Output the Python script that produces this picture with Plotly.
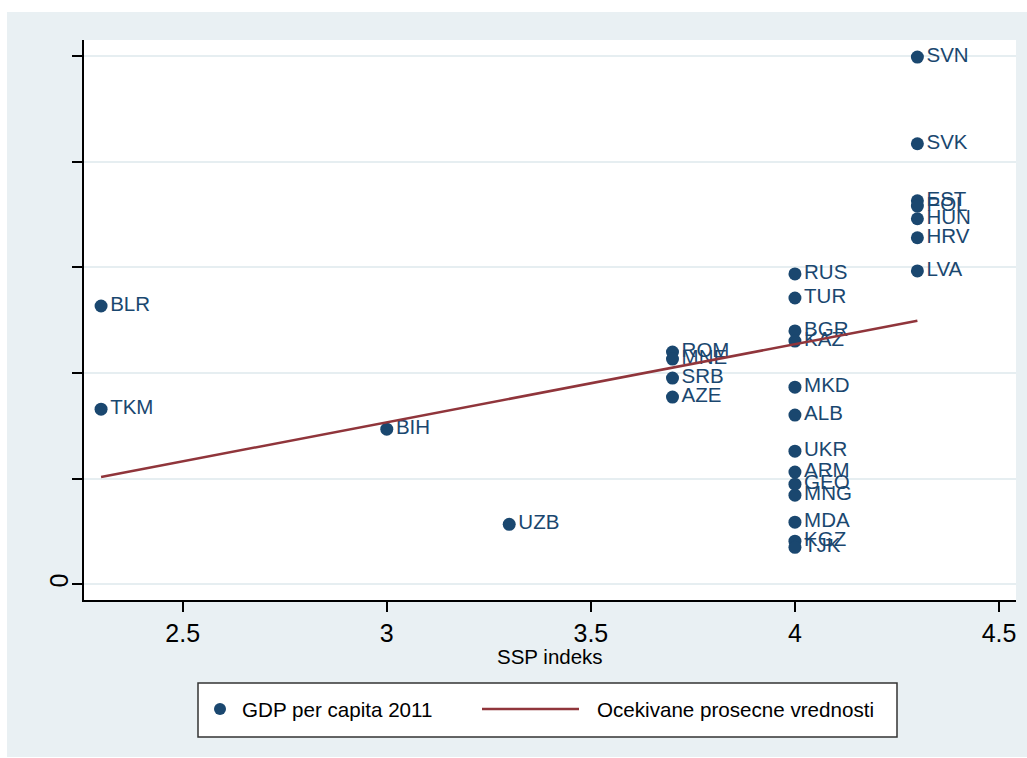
import plotly.graph_objects as go

# ---- data ----
countries = ["SVN", "SVK", "EST", "POL", "HUN", "HRV", "LVA",
             "RUS", "TUR", "BGR", "KAZ", "MKD", "ALB", "UKR", "ARM", "GEO", "MNG", "MDA", "KGZ", "TJK",
             "ROM", "MNE", "SRB", "AZE",
             "UZB", "BIH", "BLR", "TKM"]
ssp_index = [4.3, 4.3, 4.3, 4.3, 4.3, 4.3, 4.3,
             4.0, 4.0, 4.0, 4.0, 4.0, 4.0, 4.0, 4.0, 4.0, 4.0, 4.0, 4.0, 4.0,
             3.7, 3.7, 3.7, 3.7,
             3.3, 3.0, 2.3, 2.3]
gdp_pc_2011 = [24950, 20850, 18150, 17900, 17300, 16400, 14830,
               14690, 13550, 11990, 11510, 9330, 8010, 6300, 5310, 4740, 4220, 2940, 2040, 1750,
               10990, 10660, 9760, 8860,
               2840, 7340, 13170, 8290]
fit_x = [2.3, 4.3]
fit_y = [5080, 12470]

x_ticks = [2.5, 3, 3.5, 4, 4.5]
x_ticktext = ["2.5", "3", "3.5", "4", "4.5"]
y_ticks = [0, 5000, 10000, 15000, 20000, 25000]
y_ticktext = ["0", "", "", "", "", ""]

NAVY = "#1a476f"
MAROON = "#90353b"
BG = "#e9f0f3"
GRID = "#e6eef1"
FONT = "Liberation Sans, Arial"

# layout geometry (pixels)
W, H = 1027, 758
L, R, T, B = 84, 1016, 40, 600
pw, ph = R - L, B - T


def px(xp):
    return (xp - L) / pw


def py(yp):
    return (B - yp) / ph


fig = go.Figure()
fig.add_trace(go.Scatter(
    x=ssp_index, y=gdp_pc_2011, mode="markers+text", text=countries,
    textposition="middle right",
    textfont=dict(family=FONT, size=20.5, color=NAVY),
    marker=dict(color=NAVY, size=13, line=dict(width=0)),
    name="GDP per capita 2011", showlegend=False, cliponaxis=False,
))
fig.add_trace(go.Scatter(
    x=fit_x, y=fit_y, mode="lines", line=dict(color=MAROON, width=2.5),
    name="Ocekivane prosecne vrednosti", showlegend=False,
))

shapes = [
    # outer light background
    dict(type="rect", xref="paper", yref="paper", x0=px(7), x1=px(1027), y0=py(757), y1=py(12),
         fillcolor=BG, line=dict(width=0), layer="below"),
    # white plot area
    dict(type="rect", xref="paper", yref="paper", x0=0, x1=1, y0=0, y1=1,
         fillcolor="white", line=dict(width=0), layer="below"),
    # legend box
    dict(type="rect", xref="paper", yref="paper", x0=px(198), x1=px(897), y0=py(737), y1=py(683),
         fillcolor="white", line=dict(color="#333333", width=1.5)),
    # legend marker
    dict(type="circle", xref="paper", yref="paper", x0=px(214), x1=px(226), y0=py(715), y1=py(703),
         fillcolor=NAVY, line=dict(width=0)),
    # legend line
    dict(type="line", xref="paper", yref="paper", x0=px(482), x1=px(579), y0=py(709), y1=py(709),
         line=dict(color=MAROON, width=2.5)),
]

annotations = [
    dict(text="GDP per capita 2011", xref="paper", yref="paper", x=px(240), y=py(709),
         xanchor="left", yanchor="middle", showarrow=False,
         font=dict(family=FONT, size=20.6, color="black")),
    dict(text="Ocekivane prosecne vrednosti", xref="paper", yref="paper", x=px(595), y=py(709),
         xanchor="left", yanchor="middle", showarrow=False,
         font=dict(family=FONT, size=20.6, color="black")),
    dict(text="SSP indeks", xref="paper", yref="paper", x=px(550), y=py(656),
         xanchor="center", yanchor="middle", showarrow=False,
         font=dict(family=FONT, size=20.5, color="black")),
]

fig.update_layout(
    width=W, height=H,
    margin=dict(l=L, r=W - R, t=T, b=H - B),
    paper_bgcolor="white", plot_bgcolor="rgba(0,0,0,0)",
    shapes=shapes, annotations=annotations,
    showlegend=False,
    font=dict(family=FONT, color="black"),
)
fig.update_xaxes(
    range=[2.2582, 4.5416], tickvals=x_ticks, ticktext=x_ticktext,
    ticks="outside", ticklen=10, tickwidth=1.5, tickcolor="black",
    showline=True, linecolor="black", linewidth=1.5, showgrid=False, zeroline=False,
    tickfont=dict(size=25, color="black"),
)
fig.update_yaxes(
    range=[-743, 25759], tickvals=y_ticks, ticktext=y_ticktext,
    ticks="outside", ticklen=10, tickwidth=1.5, tickcolor="black",
    showline=True, linecolor="black", linewidth=1.5,
    showgrid=True, gridcolor=GRID, gridwidth=2, zeroline=False,
    tickangle=-90, tickfont=dict(size=25, color="black"),
    ticklabelstandoff=-6,
)

fig.write_html("out.html")
